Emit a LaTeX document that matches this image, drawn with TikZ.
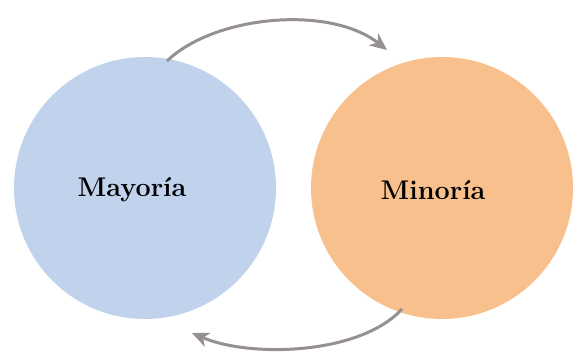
\documentclass[tikz,border=0pt]{standalone}
\usetikzlibrary{arrows.meta}
\definecolor{blueC}{RGB}{193,211,236}
\definecolor{orangeC}{RGB}{248,192,141}
\definecolor{arrowC}{RGB}{150,144,144}
\begin{document}
\begin{tikzpicture}[x=1pt,y=-1pt,
  bubble/.style={circle,minimum size=262pt,inner sep=0pt},
  lbl/.style={font=\fontsize{27}{32}\selectfont\bfseries,text=black},
  cyc/.style={draw=arrowC,line width=3pt,-{Stealth[length=17pt,width=15pt,inset=5pt]}}]
\useasboundingbox (0,0) rectangle (578,352);
\node[bubble,fill=blueC] (may) at (145,188) {};
\node[bubble,fill=orangeC] (min) at (442,188) {};
\node[lbl] (mayt) at (132,190) {Mayoría};
\node[lbl] (mint) at (433,190) {Minoría};
\coordinate (a1) at (167,61);
\coordinate (a2) at (387,50);
\coordinate (b1) at (402,309);
\coordinate (b2) at (192,333);
\draw[cyc] (a1) .. controls (215,15) and (330,5) .. (a2);
\draw[cyc] (b1) .. controls (360,355) and (250,358) .. (b2);
\end{tikzpicture}
\end{document}
